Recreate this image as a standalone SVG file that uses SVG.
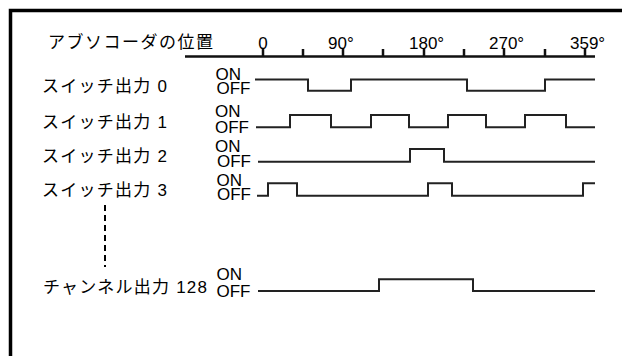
<svg xmlns="http://www.w3.org/2000/svg" width="622" height="356" viewBox="0 0 622 356">
<style>
.t{font-family:"Liberation Sans","Noto Sans CJK JP",sans-serif;font-size:17px;fill:#000}
.sig{fill:none;stroke:#222;stroke-width:2}
.ax{fill:none;stroke:#111;stroke-width:2.5}
</style>
<rect x="0" y="0" width="622" height="356" fill="#fff"/>
<rect x="10.5" y="10.5" width="700" height="500" fill="none" stroke="#000" stroke-width="3.5"/>
<g id="axis">
<text class="t" x="48" y="47.5" textLength="165" lengthAdjust="spacing">アブソコーダの位置</text>
<path class="ax" d="M185 56.5H595M263 48V56.5M303 49V56.5M343 48V56.5M383 49V56.5M424 48V56.5M464 49V56.5M504 48V56.5M545 49V56.5M585 48V56.5"/>
<text class="t" x="263" y="48.5" text-anchor="middle">0</text>
<text class="t" x="328" y="48.5">90°</text>
<text class="t" x="409" y="48.5">180°</text>
<text class="t" x="489" y="48.5">270°</text>
<text class="t" x="570" y="48.5">359°</text>
</g>
<g id="row0">
<text class="t" x="42" y="92" textLength="125" lengthAdjust="spacing">スイッチ出力 0</text>
<text class="t" x="215.5" y="80">ON</text>
<text class="t" x="216.5" y="93.5">OFF</text>
<path class="sig" d="M255 79.5H308V90.7H351V79.5H467V90.7H545V79.5H595"/>
</g>
<g id="row1">
<text class="t" x="42" y="128" textLength="125" lengthAdjust="spacing">スイッチ出力 1</text>
<text class="t" x="215" y="117">ON</text>
<text class="t" x="215" y="132.5">OFF</text>
<path class="sig" d="M256 127.3H290V115H331V127.3H371V115H409V127.3H448V115H486V127.3H525V115H566V127.3H595"/>
</g>
<g id="row2">
<text class="t" x="42" y="162" textLength="125" lengthAdjust="spacing">スイッチ出力 2</text>
<text class="t" x="215" y="152">ON</text>
<text class="t" x="217" y="167">OFF</text>
<path class="sig" d="M258 161.7H410V149H444V161.7H595"/>
</g>
<g id="row3">
<text class="t" x="42" y="196" textLength="125" lengthAdjust="spacing">スイッチ出力 3</text>
<text class="t" x="216.5" y="186">ON</text>
<text class="t" x="217" y="200">OFF</text>
<path class="sig" d="M257 195.7H268V183.3H297V195.7H428V183.3H452V195.7H583V183.3H595"/>
</g>
<g id="row128">
<text class="t" x="43" y="293" textLength="164" lengthAdjust="spacing">チャンネル出力 128</text>
<text class="t" x="216.5" y="280">ON</text>
<text class="t" x="216.5" y="296.5">OFF</text>
<path class="sig" d="M258 291H379V279.3H473V291H595"/>
</g>
<g id="connectors">
<path d="M105 205V267" fill="none" stroke="#000" stroke-width="2" stroke-dasharray="6 4"/>
</g>
</svg>
